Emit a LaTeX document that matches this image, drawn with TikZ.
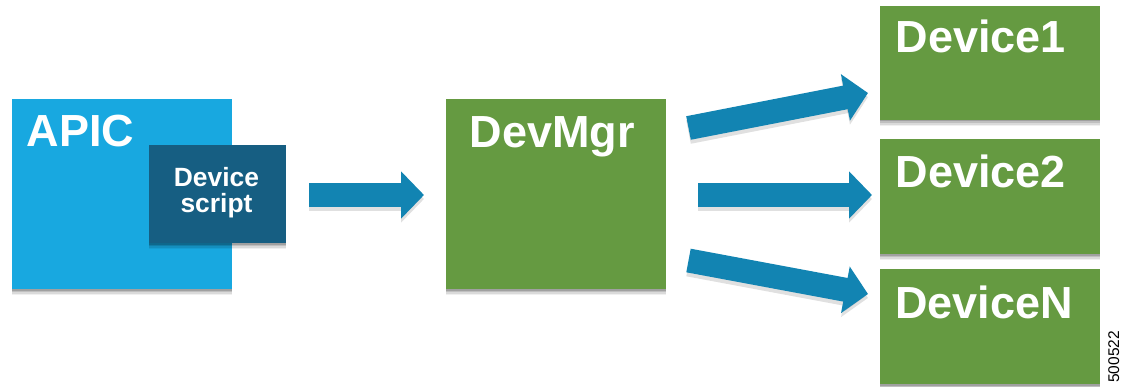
\documentclass[tikz,border=0pt]{standalone}
\usepackage{fontspec}
\setmainfont{Liberation Sans}
\usetikzlibrary{shadows,arrows.meta}
\definecolor{apicblue}{HTML}{18A8E0}
\definecolor{scriptblue}{HTML}{165E82}
\definecolor{arrowblue}{HTML}{1284B2}
\definecolor{boxgreen}{HTML}{659A41}
\tikzset{
  softshadow/.style={
    drop shadow={shadow xshift=0pt,shadow yshift=-6pt,shadow scale=1.004,opacity=.06,fill=black},
    drop shadow={shadow xshift=0pt,shadow yshift=-4.5pt,shadow scale=1.004,opacity=.09,fill=black},
    drop shadow={shadow xshift=0pt,shadow yshift=-3pt,opacity=.12,fill=black},
    drop shadow={shadow xshift=0pt,shadow yshift=-1.5pt,opacity=.16,fill=black}},
  box/.style={rectangle,inner sep=0pt,outer sep=0pt,anchor=north west,softshadow},
  greenbox/.style={box,fill=boxgreen,minimum width=220pt},
  biglabel/.style={anchor=base west,inner sep=0pt,text=white,font=\fontsize{45}{45}\selectfont\bfseries},
  smalllabel/.style={align=center,inner sep=0pt,text=white,font=\fontsize{26.4}{26.4}\selectfont\bfseries},
  blockarrow/.style={
    draw=arrowblue,line width=24pt,
    -{Triangle[width=46pt,length=23pt,fill=arrowblue,color=arrowblue]},shorten >=0pt,
    preaction={draw=black,opacity=.12,transform canvas={yshift=-4pt},line width=24pt,
      -{Triangle[width=46pt,length=23pt]}}}
}
\begin{document}
\begin{tikzpicture}[x=1pt,y=-1pt]
\useasboundingbox[fill=white] (0,0) rectangle (1131,387);
% boxes
\node[box,fill=apicblue,minimum width=220pt,minimum height=190pt] (apic) at (12,99) {};
\node[box,fill=scriptblue,minimum width=137pt,minimum height=98pt] (script) at (149,145) {};
\node[greenbox,minimum height=190pt] (devmgr) at (446,99) {};
\node[greenbox,minimum height=114pt] (dev1) at (880,6) {};
\node[greenbox,minimum height=115pt] (dev2) at (880,139) {};
\node[greenbox,minimum height=115pt] (devn) at (880,269) {};
% labels
\node[biglabel] (apiclabel) at (26.5,147) {APIC};
\node[smalllabel] (scriptlabel) at (216.5,192.5) {Device\\script};
\node[biglabel] (devmgrlabel) at (469.5,148) {DevMgr};
\node[biglabel] (dev1label) at (895.5,53) {Device1};
\node[biglabel] (dev2label) at (895.5,188) {Device2};
\node[biglabel] (devnlabel) at (895,318) {DeviceN};
\node[rotate=90,anchor=base west,inner sep=0pt,font=\fontsize{15.5}{15.5}\selectfont] (figid) at (1119,383) {500522};
% connectors
\coordinate (a0s) at (309,195);
\coordinate (a0e) at (424,195);
\coordinate (a1s) at (688.5,128);
\coordinate (a1e) at (868,93);
\coordinate (a2s) at (698,195);
\coordinate (a2e) at (872,195);
\coordinate (a3s) at (688.5,260.5);
\coordinate (a3e) at (868,294);
\draw[blockarrow] (a0s) -- (a0e);
\draw[blockarrow] (a1s) -- (a1e);
\draw[blockarrow] (a2s) -- (a2e);
\draw[blockarrow] (a3s) -- (a3e);
\end{tikzpicture}
\end{document}
